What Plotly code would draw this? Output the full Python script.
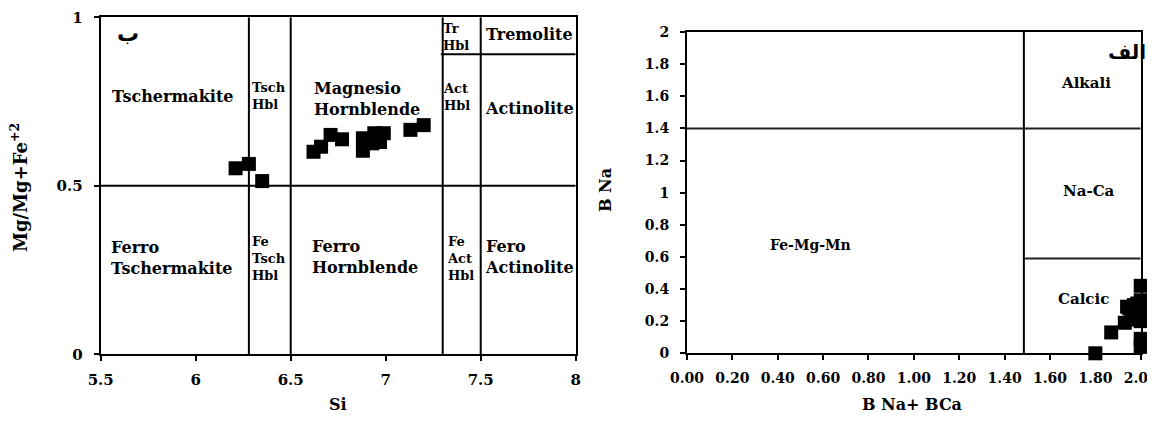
import plotly.graph_objects as go

# ---- Left diagram (Si vs Mg/(Mg+Fe2+)) ----
si_vals = [6.21, 6.28, 6.35, 6.62, 6.66, 6.71, 6.77, 6.88, 6.88, 6.93, 6.94, 6.97, 6.99, 7.13, 7.20]
mg_vals = [0.552, 0.565, 0.514, 0.601, 0.616, 0.651, 0.638, 0.604, 0.641, 0.626, 0.656, 0.630, 0.656, 0.666, 0.680]
left_xticks = [5.5, 6, 6.5, 7, 7.5, 8]
left_yticks = [0, 0.5, 1]
left_vlines = [6.28, 6.5, 7.3, 7.5]
left_labels = [
    ("ب", 5.645, 0.952, 22),
    ("Tschermakite", 5.88, 0.764, 16),
    ("Tsch<br>Hbl", 6.385, 0.766, 13),
    ("Magnesio<br>Hornblende", 6.90, 0.757, 16),
    ("Tr<br>Hbl", 7.37, 0.943, 13),
    ("Tremolite", 7.755, 0.948, 16),
    ("Act<br>Hbl", 7.37, 0.763, 13),
    ("Actinolite", 7.755, 0.73, 16),
    ("Ferro<br>Tschermakite", 5.875, 0.285, 16),
    ("Fe<br>Tsch<br>Hbl", 6.385, 0.285, 13),
    ("Ferro<br>Hornblende", 6.89, 0.288, 16),
    ("Fe<br>Act<br>Hbl", 7.396, 0.285, 13),
    ("Fero<br>Actinolite", 7.757, 0.288, 16),
]

# ---- Right diagram (BNa+BCa vs BNa) ----
bnaca_vals = [1.80, 1.87, 1.93, 1.96, 1.94, 1.985, 2.00, 2.00, 2.00, 2.00, 2.00, 2.00, 1.97, 2.00, 1.95]
bna_vals = [0.00, 0.13, 0.19, 0.21, 0.29, 0.31, 0.42, 0.33, 0.27, 0.23, 0.09, 0.04, 0.30, 0.20, 0.28]
right_xticks = [0.0, 0.2, 0.4, 0.6, 0.8, 1.0, 1.2, 1.4, 1.6, 1.8, 2.0]
right_yticks = [0, 0.2, 0.4, 0.6, 0.8, 1, 1.2, 1.4, 1.6, 1.8, 2]
right_labels = [
    ("الف", 1.94, 1.875, 20),
    ("Alkali", 1.757, 1.684, 15),
    ("Na-Ca", 1.77, 1.01, 15),
    ("Fe-Mg-Mn", 0.543, 0.675, 14),
    ("Calcic", 1.75, 0.34, 15),
]

FONT = "DejaVu Serif"
AR_FONT = "DejaVu Sans"
W, H = 1155, 423
OFF = 8  # page body margin offset of the rendered figure

fig = go.Figure()
fig.add_trace(go.Scatter(x=si_vals, y=mg_vals, mode="markers", xaxis="x", yaxis="y",
                         marker=dict(symbol="square", size=14, color="black"),
                         cliponaxis=False, showlegend=False))
fig.add_trace(go.Scatter(x=bnaca_vals, y=bna_vals, mode="markers", xaxis="x2", yaxis="y2",
                         marker=dict(symbol="square", size=14, color="black"),
                         cliponaxis=False, showlegend=False))

common = dict(showgrid=False, zeroline=False, showline=True, mirror=True, linecolor="black",
              linewidth=2, ticks="outside", ticklen=5, tickcolor="black", tickwidth=1.5,
              automargin=False)
left_tickfont = dict(family=FONT, size=15, color="black", weight="bold")
right_tickfont = dict(family=FONT, size=14, color="black", weight="bold")


def px_x(p):
    return (p - OFF) / W


def px_y(p):
    return 1 - (p - OFF) / H


fig.update_layout(
    width=W, height=H, margin=dict(l=0, r=0, t=0, b=0, autoexpand=False),
    paper_bgcolor="white", plot_bgcolor="white",
    xaxis=dict(domain=[px_x(100.7), px_x(575.7)], range=[5.5, 8], tickvals=left_xticks,
               ticktext=[("%g" % v) for v in left_xticks], anchor="y", ticklabelstandoff=6,
               tickfont=left_tickfont, **common),
    yaxis=dict(domain=[px_y(354.3), px_y(17.3)], range=[0, 1], tickvals=left_yticks,
               ticktext=[("%g" % v) for v in left_yticks], anchor="x", ticklabelstandoff=8,
               tickfont=left_tickfont, **common),
    xaxis2=dict(domain=[px_x(687), px_x(1140.7)], range=[0, 2], tickvals=right_xticks,
                ticktext=[("%.2f" % v) for v in right_xticks], anchor="y2", ticklabelstandoff=6,
                tickfont=right_tickfont, **common),
    yaxis2=dict(domain=[px_y(353.3), px_y(32)], range=[0, 2], tickvals=right_yticks,
                ticktext=[("%g" % v) for v in right_yticks], anchor="x2", ticklabelstandoff=8,
                tickfont=right_tickfont, **common),
)

shapes = []
for v in left_vlines:
    shapes.append(dict(type="line", xref="x", yref="y", x0=v, x1=v, y0=0, y1=1,
                       line=dict(color="black", width=2)))
shapes.append(dict(type="line", xref="x", yref="y", x0=5.5, x1=8, y0=0.5, y1=0.5,
                   line=dict(color="black", width=2)))
shapes.append(dict(type="line", xref="x", yref="y", x0=7.29, x1=8, y0=0.89, y1=0.89,
                   line=dict(color="black", width=2)))
# right diagram boundaries
shapes.append(dict(type="line", xref="x2", yref="y2", x0=1.485, x1=1.485, y0=0, y1=2,
                   line=dict(color="black", width=2)))
shapes.append(dict(type="line", xref="x2", yref="y2", x0=0, x1=2, y0=1.4, y1=1.4,
                   line=dict(color="#222", width=2)))
shapes.append(dict(type="line", xref="x2", yref="y2", x0=1.485, x1=2, y0=0.59, y1=0.59,
                   line=dict(color="#222", width=2)))
fig.update_layout(shapes=shapes)

ann = []
for t, x, y, s in left_labels:
    fam = AR_FONT if t == "ب" else FONT
    ann.append(dict(text=t, x=x, y=y, xref="x", yref="y", showarrow=False, align="left",
                    xanchor="center", yanchor="middle",
                    font=dict(family=fam, size=s, color="black", weight="bold")))
for t, x, y, s in right_labels:
    fam = AR_FONT if t == "الف" else FONT
    ann.append(dict(text=t, x=x, y=y, xref="x2", yref="y2", showarrow=False, align="left",
                    xanchor="center", yanchor="middle",
                    font=dict(family=fam, size=s, color="black", weight="bold")))


def title(text, xp, yp, size, angle=0):
    return dict(text=text, x=px_x(xp), y=px_y(yp), xref="paper", yref="paper", showarrow=False,
                xanchor="center", yanchor="middle", textangle=angle,
                font=dict(family=FONT, size=size, color="black", weight="bold"))


# axis titles
ann.append(title("Si", 338, 404, 16))
ann.append(title("Mg/Mg+Fe<sup>+2</sup>", 19, 188, 18, -90))
ann.append(title("B Na+ BCa", 912, 404, 16))
ann.append(title("B Na", 606, 190, 16, -90))
fig.update_layout(annotations=ann)

fig.write_html("out.html")
